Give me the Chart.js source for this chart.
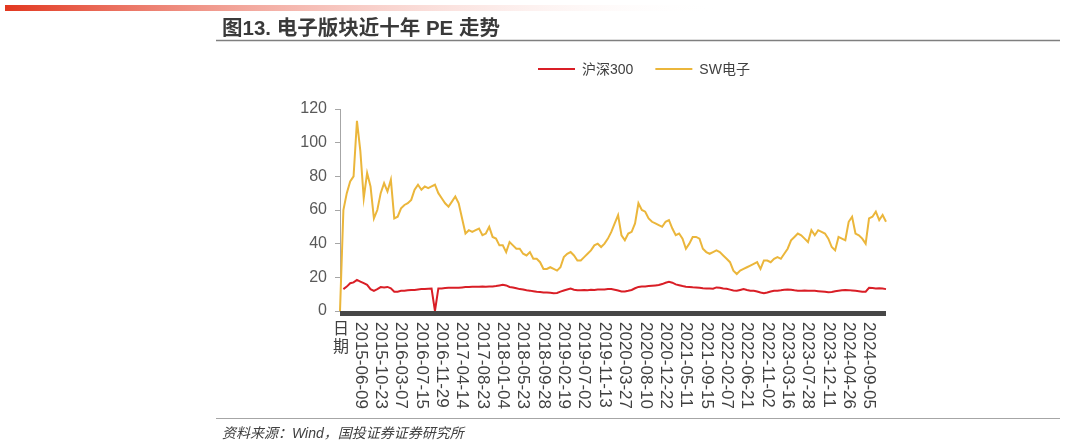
<!DOCTYPE html>
<html>
<head>
<meta charset="utf-8">
<script src="https://cdn.jsdelivr.net/npm/chart.js@4"></script>
<style>
  body { margin: 0; background: #fff; }
  canvas { display: block; }
</style>
</head>
<body>
<canvas id="chart" width="1067" height="445"></canvas>
<script>
// tick labels under the x axis, one every STEP points (first one is the header cell)
const tickLabels = ['日期', '2015-06-09', '2015-10-23', '2016-03-07', '2016-07-15', '2016-11-29',
    '2017-04-14', '2017-08-23', '2018-01-04', '2018-05-23', '2018-09-28', '2019-02-19',
    '2019-07-02', '2019-11-13', '2020-03-27', '2020-08-10', '2020-12-22', '2021-05-11',
    '2021-09-15', '2022-02-07', '2022-06-21', '2022-11-02', '2023-03-16', '2023-07-28',
    '2023-12-11', '2024-04-26', '2024-09-05'];
const STEP = 6;

const seriesNames = ['沪深300', 'SW电子'];

const hs300 = [
    null, 13, 14.5, 16.5, 17, 18.5, 17.5, 16.5, 15.5, 13,
    12, 13, 14.2, 14, 14.3, 13.5, 11.5, 11.5, 12, 12,
    12.3, 12.5, 12.5, 12.8, 13, 13, 13.2, 13.3, 0, 13.4,
    13.4, 13.6, 13.8, 13.8, 13.8, 13.8, 14, 14.2, 14.3, 14.4,
    14.4, 14.4, 14.5, 14.4, 14.5, 14.6, 14.8, 15.2, 15.6, 15.2,
    14.3, 14, 13.5, 13, 12.8, 12.3, 12.1, 11.8, 11.5, 11.3,
    11, 11, 10.8, 10.6, 10.7, 11.5, 12.2, 12.8, 13.3, 12.6,
    12.3, 12.4, 12.5, 12.4, 12.6, 12.5, 12.7, 12.8, 12.8, 13,
    13, 12.6, 12.2, 11.6, 11.6, 12, 12.5, 13.5, 14.3, 14.5,
    14.6, 14.8, 15, 15.2, 15.4, 16, 16.8, 17.3, 16.8, 15.8,
    15.3, 14.8, 14.4, 14.3, 14.1, 14, 13.8, 13.5, 13.4, 13.3,
    13.2, 14, 13.8, 13.4, 13.2, 12.7, 12.2, 12, 12.5, 13,
    12.5, 12.1, 12, 11.6, 11, 10.6, 11, 11.6, 12, 12.1,
    12.3, 12.6, 12.8, 12.6, 12.3, 12.1, 12.1, 12.2, 12, 12,
    12, 11.8, 11.6, 11.4, 11.2, 11.3, 11.7, 12, 12.3, 12.5,
    12.4, 12.2, 12, 11.8, 11.5, 11.5, 13.8, 13.6, 13.4, 13.5,
    13.3, 13
];

const swElec = [
    0, 60, 70, 77, 80, 113, 95, 67, 82, 74,
    55, 60, 70, 76, 71, 78, 55, 56, 61, 63,
    64, 66, 72, 75, 72, 74, 73, 74, 75, 70,
    67, 64, 62, 65, 68, 64, 55, 46, 48, 47,
    48, 49, 45, 46, 50, 44, 43, 39, 39, 35,
    41, 39, 37, 37, 34, 33, 35, 31, 31, 29,
    25, 25, 26, 25, 24, 26, 32, 34, 35, 33,
    30, 30, 32, 34, 36, 39, 40, 38, 40, 43,
    47, 52, 57, 45, 42, 46, 47, 52, 64, 60,
    59, 55, 53, 52, 51, 50, 53, 54, 49, 45,
    46, 43, 37, 40, 44, 44, 43, 37, 35, 34,
    35, 36, 35, 33, 31, 29, 24, 22, 24, 25,
    26, 27, 28, 29, 25, 30, 30, 29, 31, 32,
    31, 34, 37, 42, 44, 46, 45, 43, 41, 48,
    45, 48, 47, 46, 43, 38, 36, 44, 43, 42,
    53, 56, 46, 45, 43, 40, 55, 56, 59, 54,
    57, 53
];

const RED = '#d91e26';
const GOLD = '#ebb63b';
const TEXT = '#404040';

let labels = [];
for (let i = 0; i < swElec.length; i++) {
    labels.push(i % STEP === 0 && tickLabels[i / STEP] ? tickLabels[i / STEP] : '');
}

const decor = {
    id: 'decor',
    beforeDraw(chart) {
        let ctx = chart.ctx;
        ctx.save();
        ctx.fillStyle = '#fff';
        ctx.fillRect(0, 0, chart.width, chart.height);

        // red fading bar at the top
        let grad = ctx.createLinearGradient(5, 0, 720, 0);
        grad.addColorStop(0, '#e2371f');
        grad.addColorStop(1, 'rgba(255,255,255,0)');
        ctx.fillStyle = grad;
        ctx.fillRect(5, 5, 715, 6);

        // title
        ctx.fillStyle = '#3a3a3a';
        ctx.font = 'bold 20.5px "Liberation Sans", "Noto Sans CJK SC", sans-serif';
        ctx.textBaseline = 'alphabetic';
        ctx.textAlign = 'left';
        ctx.fillText('图13. 电子版块近十年 PE 走势', 222, 35);

        ctx.strokeStyle = '#7f7f7f';
        ctx.lineWidth = 1.5;
        ctx.beginPath();
        ctx.moveTo(216, 40.5);
        ctx.lineTo(1060, 40.5);
        ctx.stroke();

        // footer
        ctx.strokeStyle = '#a6a6a6';
        ctx.lineWidth = 1.2;
        ctx.beginPath();
        ctx.moveTo(216, 418.5);
        ctx.lineTo(1060, 418.5);
        ctx.stroke();
        ctx.fillStyle = TEXT;
        ctx.font = 'italic 14px "Liberation Sans", "Noto Sans CJK SC", sans-serif';
        ctx.fillText('资料来源：Wind，国投证券证券研究所', 222, 438);

        // legend
        ctx.font = '14px "Liberation Sans", "Noto Sans CJK SC", sans-serif';
        ctx.textBaseline = 'middle';
        let x = 538;
        chart.data.datasets.forEach(ds => {
            ctx.strokeStyle = ds.borderColor;
            ctx.lineWidth = 2;
            ctx.beginPath();
            ctx.moveTo(x, 69);
            ctx.lineTo(x + 37, 69);
            ctx.stroke();
            ctx.fillStyle = TEXT;
            ctx.fillText(ds.label, x + 44, 70);
            x += 44 + ctx.measureText(ds.label).width + 22;
        });
        ctx.restore();
    },
    beforeDatasetsDraw(chart) {
        let ctx = chart.ctx;
        let area = chart.chartArea;
        ctx.save();
        ctx.fillStyle = '#474747';
        ctx.fillRect(area.left, area.bottom, area.right - area.left, 5);
        ctx.restore();
    },
    afterDraw(chart) {
        let ctx = chart.ctx;
        let xs = chart.scales.x;
        let top = chart.chartArea.bottom + 11;
        ctx.save();
        ctx.fillStyle = TEXT;
        ctx.font = '17px "Liberation Sans", "Noto Sans CJK SC", sans-serif';
        tickLabels.forEach((lab, j) => {
            let px = xs.getPixelForValue(j * STEP);
            if (j === 0) {
                // header cell is written upright, one character per line
                ctx.font = '16px "Noto Sans CJK SC", sans-serif';
                ctx.textAlign = 'center';
                ctx.textBaseline = 'top';
                ctx.fillText(lab[0], px + 1, top - 2);
                ctx.fillText(lab[1], px + 1, top + 16);
                ctx.font = '17px "Liberation Sans", "Noto Sans CJK SC", sans-serif';
                return;
            }
            ctx.save();
            ctx.translate(px, top);
            ctx.rotate(Math.PI / 2);
            ctx.textAlign = 'left';
            ctx.textBaseline = 'middle';
            ctx.fillText(lab, 0, 0);
            ctx.restore();
        });
        ctx.restore();
    }
};

let chart = new Chart(document.getElementById('chart').getContext('2d'), {
    type: 'line',
    data: {
        labels: labels,
        datasets: [{
            label: seriesNames[0],
            data: hs300,
            borderColor: RED,
            borderWidth: 2,
            pointRadius: 0,
            tension: 0,
            order: 1
        }, {
            label: seriesNames[1],
            data: swElec,
            borderColor: GOLD,
            borderWidth: 2,
            pointRadius: 0,
            tension: 0,
            order: 0
        }]
    },
    options: {
        responsive: false,
        animation: false,
        layout: {
            padding: { top: 109, right: 181, bottom: 0, left: 0 }
        },
        plugins: {
            legend: { display: false },
            title: { display: false },
            tooltip: { enabled: false }
        },
        scales: {
            x: {
                type: 'category',
                offset: false,
                grid: { display: false },
                border: { display: false },
                ticks: { display: false },
                afterFit(scale) { scale.height = 134; }
            },
            y: {
                min: 0,
                max: 120,
                ticks: {
                    stepSize: 20,
                    padding: 8,
                    color: '#595959',
                    font: { family: '"Liberation Sans", sans-serif', size: 16 }
                },
                grid: {
                    drawOnChartArea: false,
                    drawTicks: true,
                    tickLength: 5,
                    color: '#a6a6a6'
                },
                border: { display: true, color: '#a6a6a6', width: 1 },
                afterFit(scale) { scale.width = 340; }
            }
        }
    },
    plugins: [decor]
});
</script>
</body>
</html>
